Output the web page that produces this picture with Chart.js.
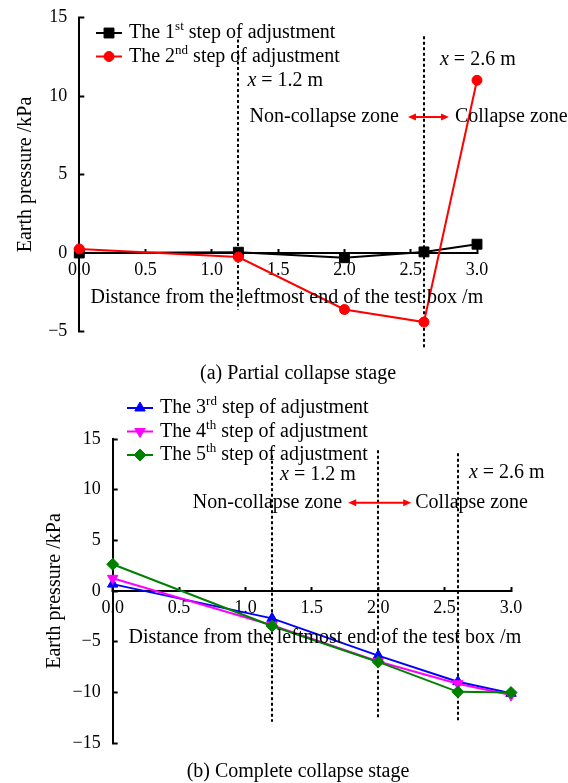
<!DOCTYPE html>
<html>
<head>
<meta charset="utf-8">
<script src="https://cdn.jsdelivr.net/npm/chart.js@4.4.0/dist/chart.umd.min.js"></script>
<style>
html, body { margin: 0; padding: 0; overflow: hidden; background: #fff; }
#page { position: relative; width: 568px; height: 783px; overflow: hidden; }
#page canvas { position: absolute; left: 0; }
.caption { position: absolute; left: 0; width: 596px; text-align: center; font: 20px/24px "Liberation Serif", "Times New Roman", serif; color: #000; }
</style>
</head>
<body>
<div id="page">
  <canvas id="partialChart" width="568" height="390" style="top:0"></canvas>
  <canvas id="completeChart" width="568" height="393" style="top:390px"></canvas>
  <div class="caption" style="top:360px">(a) Partial collapse stage</div>
  <div class="caption" style="top:758px">(b) Complete collapse stage</div>
</div>
<script>
// measuring points along the test box (m)
var distance = [0, 1.2, 2.0, 2.6, 3.0];

// earth pressure (kPa), partial collapse stage
var step1 = [0.0, 0.05, -0.3, 0.07, 0.56];
var step2 = [0.26, -0.26, -3.6, -4.4, 11.0];

// earth pressure (kPa), complete collapse stage
var step3 = [0.68, -2.7, -6.38, -8.95, -10.1];
var step4 = [1.25, -3.38, -6.95, -9.15, -10.27];
var step5 = [2.64, -3.45, -7.0, -9.95, -10.02];

// axis ranges and tick steps
var xRange = [0, 3.0];
var xStep = 0.5;
var yRangePartial = [-5, 15];
var yRangeComplete = [-15, 15];
var yStep = 5;

// zone boundaries (m) and the extent of their dashed markers (kPa)
var boundsPartial = [1.2, 2.6];
var boundsPartialTop = [13.6, 13.8];
var boundsPartialBottom = [-3.6, -6.0];
var boundsComplete = [1.2, 2.0, 2.6];
var boundsCompleteTop = [13.4, 13.9, 13.6];
var boundsCompleteBottom = [-12.9, -12.6, -12.9];

var FONT = '"Liberation Serif", "Times New Roman", serif';
var X_TITLE = 'Distance from the leftmost end of the test box /m';

function points(ys) {
    return distance.map(function(x, i) { return { x: x, y: ys[i] }; });
}

function series(label, ys, color, style, radius, rotation, order) {
    return {
        label: label,
        data: points(ys),
        borderColor: color,
        backgroundColor: color,
        borderWidth: 2,
        pointStyle: style,
        pointRadius: radius,
        pointHoverRadius: radius,
        pointRotation: rotation,
        pointBorderWidth: 1,
        order: order,
        clip: false
    };
}

function minusSign(v) {
    return String(v).replace('-', '\u2212');
}

function scales(yRange, yAxisWidth, titleShift) {
    return {
        x: {
            type: 'linear',
            position: { y: 0 },
            min: xRange[0],
            max: xRange[1],
            ticks: {
                stepSize: xStep,
                padding: 11,
                color: '#000',
                font: { family: FONT, size: 18 },
                callback: function(v) { return v.toFixed(1); }
            },
            grid: { drawOnChartArea: false, tickLength: -5, tickWidth: 2, color: '#000' },
            border: { color: '#000', width: 2 },
            afterFit: function(scale) {
                scale.height = 0;
                scale.paddingLeft = 0;
                scale.paddingRight = 0;
            }
        },
        y: {
            min: yRange[0],
            max: yRange[1],
            ticks: {
                stepSize: yStep,
                padding: 17,
                color: '#000',
                font: { family: FONT, size: 18 },
                callback: function(v) { return minusSign(v); }
            },
            grid: { drawOnChartArea: false, tickLength: -5, tickWidth: 2, color: '#000' },
            border: { color: '#000', width: 2 },
            title: {
                display: true,
                text: 'Earth pressure /kPa',
                color: '#000',
                font: { family: FONT, size: 20 },
                padding: { top: titleShift, bottom: 0 }
            },
            afterFit: function(scale) {
                scale.width = yAxisWidth;
                scale.paddingTop = 0;
                scale.paddingBottom = 0;
            }
        }
    };
}

// dashed boundary markers, drawn beneath the curves
function boundaryPlugin(xs, tops, bottoms) {
    return {
        id: 'boundaries',
        beforeDatasetsDraw: function(chart) {
            var ctx = chart.ctx, sx = chart.scales.x, sy = chart.scales.y;
            ctx.save();
            ctx.strokeStyle = '#000';
            ctx.lineWidth = 2;
            ctx.setLineDash([3, 2.5]);
            xs.forEach(function(v, i) {
                var px = Math.round(sx.getPixelForValue(v));
                ctx.beginPath();
                ctx.moveTo(px, sy.getPixelForValue(tops[i]));
                ctx.lineTo(px, sy.getPixelForValue(bottoms[i]));
                ctx.stroke();
            });
            ctx.restore();
        }
    };
}

function drawParts(ctx, parts, x, y) {
    parts.forEach(function(p) {
        ctx.font = (p.italic ? 'italic ' : '') + (p.size || 20) + 'px ' + FONT;
        ctx.fillText(p.text, x, y + (p.rise || 0));
        x += ctx.measureText(p.text).width;
    });
}

function arrow(ctx, x1, x2, y) {
    var head = 8, half = 3.5;
    ctx.save();
    ctx.strokeStyle = '#ff0000';
    ctx.fillStyle = '#ff0000';
    ctx.lineWidth = 2;
    ctx.beginPath();
    ctx.moveTo(x1 + head - 1, y);
    ctx.lineTo(x2 - head + 1, y);
    ctx.stroke();
    ctx.beginPath();
    ctx.moveTo(x1, y); ctx.lineTo(x1 + head, y - half); ctx.lineTo(x1 + head, y + half);
    ctx.closePath();
    ctx.moveTo(x2, y); ctx.lineTo(x2 - head, y - half); ctx.lineTo(x2 - head, y + half);
    ctx.closePath();
    ctx.fill();
    ctx.restore();
}

// x = ... labels, the zone arrow and the x axis title
function notesPlugin(cfg) {
    return {
        id: 'notes',
        afterDraw: function(chart) {
            var ctx = chart.ctx, sx = chart.scales.x, sy = chart.scales.y;
            ctx.save();
            ctx.fillStyle = '#000';
            ctx.textBaseline = 'middle';
            ctx.textAlign = 'left';
            cfg.marks.forEach(function(m) {
                drawParts(ctx, [{ text: 'x', italic: true }, { text: ' = ' + m.v.toFixed(1) + ' m' }],
                    sx.getPixelForValue(m.v) + m.dx, sy.getPixelForValue(m.y));
            });
            var zx = sx.getPixelForValue(cfg.zone.v), zy = sy.getPixelForValue(cfg.zone.y);
            ctx.font = '20px ' + FONT;
            ctx.textAlign = 'right';
            ctx.fillText('Non-collapse zone', zx + cfg.zone.leftEnd, zy);
            ctx.textAlign = 'left';
            ctx.fillText('Collapse zone', zx + cfg.zone.rightStart, zy);
            arrow(ctx, zx + cfg.zone.from, zx + cfg.zone.to, zy);

            ctx.textAlign = 'center';
            ctx.fillText(X_TITLE, (sx.left + sx.right) / 2 + cfg.titleShift, sy.getPixelForValue(0) + cfg.titleDrop);
            ctx.restore();
        }
    };
}

// legend with ordinal superscripts
function legendPlugin(left, top, gap) {
    return {
        id: 'stepLegend',
        afterDraw: function(chart) {
            var ctx = chart.ctx;
            chart.data.datasets.forEach(function(ds, i) {
                var y = top + i * gap;
                ctx.save();
                ctx.strokeStyle = ds.borderColor;
                ctx.fillStyle = ds.backgroundColor;
                ctx.lineWidth = 2;
                ctx.beginPath();
                ctx.moveTo(left, y);
                ctx.lineTo(left + 26, y);
                ctx.stroke();
                ctx.lineWidth = 1;
                Chart.helpers.drawPoint(ctx, {
                    pointStyle: ds.pointStyle,
                    radius: ds.pointRadius,
                    rotation: ds.pointRotation,
                    borderWidth: 1
                }, left + 13, y);
                var m = ds.label.match(/^(The \d)(st|nd|rd|th)(.*)$/);
                ctx.fillStyle = '#000';
                ctx.textBaseline = 'middle';
                ctx.textAlign = 'left';
                drawParts(ctx, [{ text: m[1] }, { text: m[2], size: 13, rise: -6 }, { text: m[3] }], left + 33, y);
                ctx.restore();
            });
        }
    };
}

document.addEventListener('DOMContentLoaded', function() {
    // (a) partial collapse stage
    var ctxPartial = document.getElementById('partialChart').getContext('2d');
    var partialChart = new Chart(ctxPartial, {
        type: 'line',
        data: {
            datasets: [
                series('The 1st step of adjustment', step1, '#000000', 'rect', 7, 0, 2),
                series('The 2nd step of adjustment', step2, '#ff0000', 'circle', 5, 0, 1)
            ]
        },
        options: {
            responsive: false,
            animation: false,
            layout: { padding: { left: 0, right: 91, top: 17.5, bottom: 58.5 } },
            scales: scales(yRangePartial, 79.3, 14),
            plugins: { legend: { display: false }, tooltip: { enabled: false } }
        },
        plugins: [
            boundaryPlugin(boundsPartial, boundsPartialTop, boundsPartialBottom),
            notesPlugin({
                marks: [{ v: 1.2, dx: 9, y: 11.0 }, { v: 2.6, dx: 16, y: 12.3 }],
                zone: { v: 2.6, y: 8.66, leftEnd: -25, from: -16, to: 25, rightStart: 31 },
                titleShift: 8.7,
                titleDrop: 45
            }),
            legendPlugin(96, 33, 23.5)
        ]
    });

    // (b) complete collapse stage
    var ctxComplete = document.getElementById('completeChart').getContext('2d');
    var completeChart = new Chart(ctxComplete, {
        type: 'line',
        data: {
            datasets: [
                series('The 3rd step of adjustment', step3, '#0000ff', 'triangle', 6, 0, 3),
                series('The 4th step of adjustment', step4, '#ff00ff', 'triangle', 6, 180, 2),
                series('The 5th step of adjustment', step5, '#008000', 'rectRot', 6, 0, 1)
            ]
        },
        options: {
            responsive: false,
            animation: false,
            layout: { padding: { left: 0, right: 57, top: 49, bottom: 40 } },
            scales: scales(yRangeComplete, 112.7, 43),
            plugins: { legend: { display: false }, tooltip: { enabled: false } }
        },
        plugins: [
            boundaryPlugin(boundsComplete, boundsCompleteTop, boundsCompleteBottom),
            notesPlugin({
                marks: [{ v: 1.2, dx: 8, y: 11.45 }, { v: 2.6, dx: 11, y: 11.65 }],
                zone: { v: 2.0, y: 8.7, leftEnd: -36, from: -30, to: 33, rightStart: 37 },
                titleShift: 13,
                titleDrop: 47
            }),
            legendPlugin(127, 18, 23.5)
        ]
    });
});
</script>
</body>
</html>
